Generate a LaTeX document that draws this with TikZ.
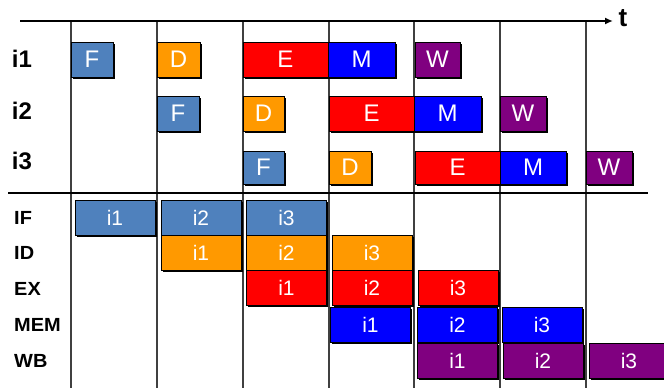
\documentclass[tikz,border=0pt]{standalone}
\usepackage{fontspec}
\setmainfont{Liberation Sans}
\usetikzlibrary{arrows.meta,shadows}
\definecolor{cF}{RGB}{79,129,189}
\definecolor{cD}{RGB}{255,153,0}
\definecolor{cE}{RGB}{255,0,0}
\definecolor{cM}{RGB}{0,0,255}
\definecolor{cW}{RGB}{128,0,128}
\definecolor{gridc}{RGB}{64,64,64}
\tikzset{
  bx/.style={fill=#1, draw=black, line width=0.8pt, inner sep=0pt, text=white,
    drop shadow={shadow xshift=1.6pt, shadow yshift=-1.6pt, fill=black, opacity=1},
    minimum height=35pt},
  topbx/.style={bx=#1, font=\fontsize{24}{24}\selectfont},
  botbx/.style={bx=#1, minimum width=80pt, font=\fontsize{21}{21}\selectfont},
  lbl/.style={font=\bfseries\fontsize{24}{24}\selectfont, inner sep=0pt},
  slbl/.style={font=\bfseries\fontsize{19}{19}\selectfont, inner sep=0pt, anchor=west, xscale=1.05},
  gridline/.style={draw=gridc, line width=1.3pt},
  axis/.style={draw=black, line width=2pt}
}
\begin{document}
\begin{tikzpicture}[x=1pt,y=-1pt]
\useasboundingbox[fill=white] (0,0) rectangle (664,388);
% grid
\foreach \xx/\nm in {71/a,157/b,243/c,329/d,414/e,500/f,586/g}{
  \coordinate (v\nm t) at (\xx,21);
  \coordinate (v\nm b) at (\xx,388);
  \draw[gridline] (v\nm t) -- (v\nm b);
}
\coordinate (axs) at (20,21);
\coordinate (axe) at (613,21);
\draw[axis,-{Latex[length=8pt,width=7pt]}] (axs) -- (axe);
\node[lbl, font=\bfseries\fontsize{26}{26}\selectfont] (t) at (623,18) {t};
\coordinate (mls) at (8,193);
\coordinate (mle) at (648,193);
\draw[axis] (mls) -- (mle);
% row labels top
\node[lbl] (li1) at (22,59) {i1};
\node[lbl] (li2) at (22,111) {i2};
\node[lbl] (li3) at (22,161) {i3};
% top boxes
\node[topbx=cF, minimum width=42pt] (a1F) at (92,59.5) {F};
\node[topbx=cD, minimum width=43pt] (a1D) at (178.5,59.5) {D};
\node[topbx=cE, minimum width=85pt] (a1E) at (285.5,59.5) {E};
\node[topbx=cM, minimum width=67pt] (a1M) at (361.5,59.5) {M};
\node[topbx=cW, minimum width=45pt] (a1W) at (437.5,59.5) {W};
\node[topbx=cF, minimum width=42pt] (a2F) at (178,113.5) {F};
\node[topbx=cD, minimum width=41pt] (a2D) at (263.5,113.5) {D};
\node[topbx=cE, minimum width=85pt] (a2E) at (371.5,113.5) {E};
\node[topbx=cM, minimum width=67pt] (a2M) at (447.5,113.5) {M};
\node[topbx=cW, minimum width=46pt] (a2W) at (523,113.5) {W};
\node[topbx=cF, minimum width=41pt, minimum height=33pt] (a3F) at (263.5,167.5) {F};
\node[topbx=cD, minimum width=42pt, minimum height=33pt] (a3D) at (350,167.5) {D};
\node[topbx=cE, minimum width=85pt, minimum height=33pt] (a3E) at (457.5,167.5) {E};
\node[topbx=cM, minimum width=66pt, minimum height=33pt] (a3M) at (533,167.5) {M};
\node[topbx=cW, minimum width=46pt, minimum height=33pt] (a3W) at (609,167.5) {W};
% stage labels
\node[slbl] (lIF) at (14,218) {IF};
\node[slbl] (lID) at (14,253) {ID};
\node[slbl] (lEX) at (14,289) {EX};
\node[slbl] (lMEM) at (14,325) {MEM};
\node[slbl] (lWB) at (14,361) {WB};
% bottom boxes
\node[botbx=cF] (b11) at (115,218) {i1};
\node[botbx=cF] (b12) at (201,218) {i2};
\node[botbx=cF] (b13) at (286.5,218) {i3};
\node[botbx=cD] (b21) at (201,253) {i1};
\node[botbx=cD] (b22) at (286.5,253) {i2};
\node[botbx=cD] (b23) at (372,253) {i3};
\node[botbx=cE] (b31) at (286.5,288) {i1};
\node[botbx=cE] (b32) at (372,288) {i2};
\node[botbx=cE] (b33) at (458,288) {i3};
\node[botbx=cM] (b41) at (370.5,324.5) {i1};
\node[botbx=cM] (b42) at (457.5,324.5) {i2};
\node[botbx=cM] (b43) at (542,324.5) {i3};
\node[botbx=cW] (b51) at (457.5,360.5) {i1};
\node[botbx=cW] (b52) at (543,360.5) {i2};
\node[botbx=cW] (b53) at (629,360.5) {i3};
\end{tikzpicture}
\end{document}
